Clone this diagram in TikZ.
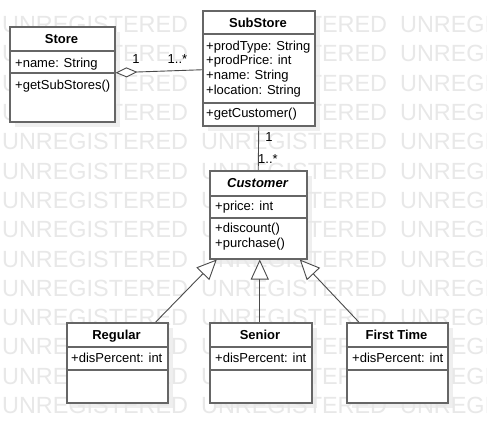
\documentclass[tikz,border=0pt]{standalone}
\usepackage{fontspec}
\setmainfont{Liberation Sans}
\usetikzlibrary{arrows.meta,calc}
\definecolor{wm}{HTML}{E8E8E8}
\definecolor{shd}{HTML}{EFEFEF}
\definecolor{bord}{HTML}{666666}
\definecolor{conncol}{HTML}{4A4A4A}
\begin{document}
\begin{tikzpicture}[x=1pt,y=-1pt,
  cls/.style={draw=bord,line width=1.5pt,fill=white,inner sep=0pt,anchor=north west},
  shadowbox/.style={fill=shd,draw=none},
  txt/.style={font=\fontsize{13}{15}\selectfont,inner sep=0pt,anchor=base west},
  ttl/.style={font=\fontsize{13}{15}\selectfont\bfseries,inner sep=0pt,anchor=base},
  lbl/.style={font=\fontsize{13}{15}\selectfont,inner sep=0pt,anchor=base},
  sepline/.style={draw=bord,line width=1.5pt},
  conn/.style={draw=conncol,line width=0.9pt},
  gen/.style={conn,-{Triangle[length=20pt,width=18pt,fill=white]}},
  agg/.style={conn,{Diamond[length=22pt,width=10pt,fill=white]}-},
  wmtext/.style={font=\fontsize{23.4}{28}\selectfont,text=wm,inner sep=0pt,anchor=base west}]
\useasboundingbox (0,0) rectangle (487,442);
\fill[white] (0,0) rectangle (487,442);
% shadows
\fill[shadowbox] (15,32) rectangle (120,127);
\fill[shadowbox] (208,16) rectangle (320,131);
\fill[shadowbox] (215,176) rectangle (312,264);
\fill[shadowbox] (72,328) rectangle (173,408);
\fill[shadowbox] (215,328) rectangle (317,408);
\fill[shadowbox] (352,328) rectangle (453,408);
% watermark
\foreach \k in {0,...,13} {
  \foreach \xx in {2,201,400} {
    \node[wmtext] (wm-\k-\xx) at (\xx,{32.6+29.3*\k}) {UNREGISTERED};
  }
}
% classes
\node[cls,minimum width=105pt,minimum height=95pt] (store) at (9,26) {};
\draw[sepline] (9,51) -- (114,51);
\draw[sepline] (9,73) -- (114,73);
\node[ttl] (storeT) at (61.5,43.5) {Store};
\node[txt] (storeA) at (15,67) {+name: String};
\node[txt] (storeM) at (15,89) {+getSubStores()};

\node[cls,minimum width=112pt,minimum height=115pt] (sub) at (202,10) {};
\draw[sepline] (202,34) -- (314,34);
\draw[sepline] (202,103) -- (314,103);
\node[ttl] (subT) at (258,27.5) {SubStore};
\node[txt] (subA1) at (206,50) {+prodType: String};
\node[txt] (subA2) at (206,64.8) {+prodPrice: int};
\node[txt] (subA3) at (206,79.6) {+name: String};
\node[txt] (subA4) at (206,94.4) {+location: String};
\node[txt] (subM) at (206,117.5) {+getCustomer()};

\node[cls,minimum width=97pt,minimum height=88pt] (cust) at (209,170) {};
\draw[sepline] (209,196) -- (306,196);
\draw[sepline] (209,218) -- (306,218);
\node[ttl,font=\fontsize{13}{15}\selectfont\bfseries\itshape] (custT) at (257.5,187.5) {Customer};
\node[txt] (custA) at (215,210.5) {+price: int};
\node[txt] (custM1) at (215,232.8) {+discount()};
\node[txt] (custM2) at (215,247.4) {+purchase()};

\node[cls,minimum width=101pt,minimum height=80pt] (reg) at (66,322) {};
\draw[sepline] (66,347) -- (167,347);
\draw[sepline] (66,370) -- (167,370);
\node[ttl] (regT) at (116.5,339.5) {Regular};
\node[txt] (regA) at (71,362) {+disPercent: int};

\node[cls,minimum width=102pt,minimum height=80pt] (sen) at (209,322) {};
\draw[sepline] (209,347) -- (311,347);
\draw[sepline] (209,370) -- (311,370);
\node[ttl] (senT) at (260,339.5) {Senior};
\node[txt] (senA) at (215,362) {+disPercent: int};

\node[cls,minimum width=101pt,minimum height=80pt] (first) at (346,322) {};
\draw[sepline] (346,347) -- (447,347);
\draw[sepline] (346,370) -- (447,370);
\node[ttl] (firstT) at (396.5,339.5) {First Time};
\node[txt] (firstA) at (352,362) {+disPercent: int};

% connectors
\draw[agg] ([yshift=1.5pt]store.east) -- ([yshift=-1.5pt]sub.west);
\node[lbl] (l1) at (136,63) {1};
\node[lbl] (l2) at (177.5,63) {1..*};
\draw[conn] (sub.south) -- (cust.north);
\node[lbl] (l3) at (269,141.7) {1};
\node[lbl] (l4) at (268,163.5) {1..*};
\draw[gen] ([xshift=38.5pt]reg.north) -- ([xshift=-41.5pt]cust.south);
\draw[gen] ([xshift=-1pt]sen.north) -- ([xshift=1.5pt]cust.south);
\draw[gen] ([xshift=-38.5pt]first.north) -- ([xshift=41.5pt]cust.south);
\end{tikzpicture}
\end{document}
